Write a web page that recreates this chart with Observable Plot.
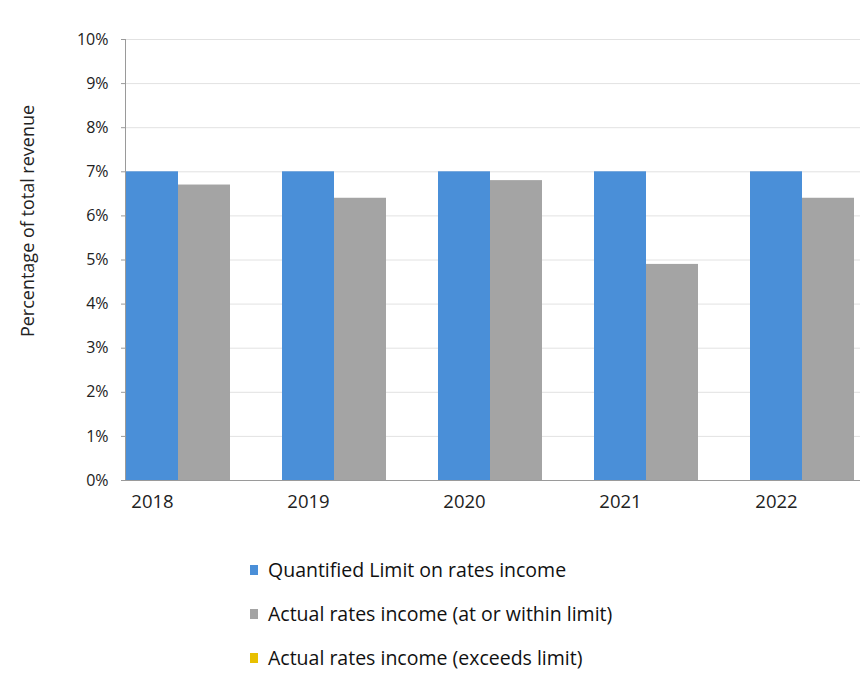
<!DOCTYPE html>
<html><head><meta charset="utf-8">
<script src="https://cdn.jsdelivr.net/npm/d3@7"></script>
<script src="https://cdn.jsdelivr.net/npm/@observablehq/plot@0.6"></script>
<style>
body{margin:0;background:#fff;font-family:"Open Sans",sans-serif}
#wrap{position:relative;width:867px;height:675px;overflow:hidden}
#legend{position:absolute;left:250px;top:548px}
.item{display:flex;align-items:center;height:44px;font-size:19.5px;line-height:1.2;color:#111}
.sw{width:8px;height:10px;margin-right:10px}
</style></head><body><div id="wrap"><div id="chart"></div><div id="legend"></div></div>
<script>
const years = ["2018","2019","2020","2021","2022"];
const seriesNames = ["Quantified Limit on rates income","Actual rates income (at or within limit)","Actual rates income (exceeds limit)"];
const limitValues = [7,7,7,7,7];
const withinValues = [6.7,6.4,6.8,4.9,6.4];
const exceedsValues = [null,null,null,null,null];
const yTicks = [0,1,2,3,4,5,6,7,8,9,10];
const colors = ["#4a8fd8","#a4a4a4","#e8c000"];

const seriesValues = [limitValues, withinValues, exceedsValues];
const rows = [];
years.forEach((yr, i) => {
  seriesNames.forEach((s, j) => {
    rows.push({key: yr + "|" + j, year: yr, series: s, idx: j, value: seriesValues[j][i]});
  });
});
const keys = rows.map(d => d.key);

const chart = Plot.plot({
  width: 867, height: 530,
  marginLeft: 125, marginRight: 7, marginTop: 39, marginBottom: 50,
  style: {fontFamily: "Open Sans", fontSize: "15px", color: "#222", background: "#fff"},
  x: {type: "band", domain: keys, range: [126, 906], padding: 0, axis: null},
  y: {domain: [0, 10]},
  color: {domain: seriesNames, range: colors},
  marks: [
    Plot.gridY(yTicks, {stroke: "#e2e2e2", strokeOpacity: 1}),
    Plot.barY(rows.filter(d => d.value != null), {x: "key", y: "value", fill: "series"}),
    Plot.ruleY([0], {stroke: "#9a9a9a", strokeWidth: 1.2}),
    Plot.frame({anchor: "left", stroke: "#9a9a9a"}),
    Plot.axisY(yTicks, {tickFormat: d => d + "%", tickSize: 4, tickPadding: 13, fontSize: 16, label: null, stroke: "#9a9a9a"}),
    Plot.text(rows.filter(d => d.idx === 0), {x: "key", frameAnchor: "bottom", dy: 27, text: "year", fontSize: 18.5}),
    Plot.text(["Percentage of total revenue"], {frameAnchor: "left", textAnchor: "middle", dx: -97, dy: -39, rotate: -90, fontSize: 18})
  ]
});
document.getElementById("chart").appendChild(chart);

const legend = document.getElementById("legend");
seriesNames.forEach((s, j) => {
  const it = document.createElement("div");
  it.className = "item";
  const sw = document.createElement("span");
  sw.className = "sw";
  sw.style.background = colors[j];
  const t = document.createElement("span");
  t.textContent = s;
  it.appendChild(sw); it.appendChild(t);
  legend.appendChild(it);
});
</script></body></html>
